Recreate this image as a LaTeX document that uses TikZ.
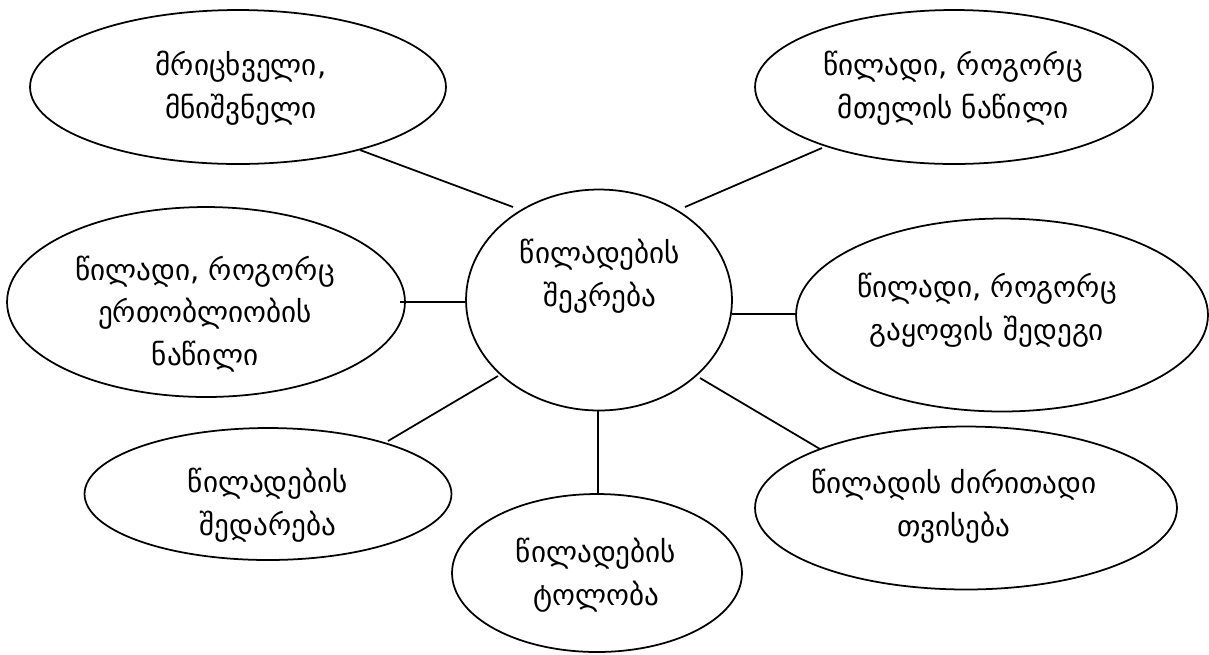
\documentclass[tikz,border=0pt]{standalone}
\usepackage{fontspec}
\setmainfont{DejaVu Sans}
\usetikzlibrary{shapes.geometric}
\begin{document}
\begin{tikzpicture}[x=0.02cm,y=-0.02cm,
  bubble/.style={draw,ellipse,line width=1pt,inner sep=0pt},
  txt/.style={align=center,font=\fontsize{16.6}{24.3}\selectfont,inner sep=0pt},
  link/.style={line width=1pt}]
\useasboundingbox (0,0) rectangle (1209,654);
\node[bubble,minimum width=8.32cm,minimum height=3.08cm] (e1) at (238,87) {};
\node[bubble,minimum width=7.96cm,minimum height=3.08cm] (e2) at (954,87) {};
\node[bubble,minimum width=7.96cm,minimum height=3.8cm] (e3) at (206,302) {};
\node[bubble,minimum width=5.32cm,minimum height=4.42cm] (c) at (599,300) {};
\node[bubble,minimum width=8.24cm,minimum height=3.86cm] (e5) at (1002,315) {};
\node[bubble,minimum width=7.34cm,minimum height=2.64cm] (e6) at (268,494) {};
\node[bubble,minimum width=5.8cm,minimum height=3.16cm] (e7) at (597,573) {};
\node[bubble,minimum width=8.44cm,minimum height=3.26cm] (e8) at (966,508) {};

\node[txt] (t1) at (241,88) {მრიცხველი,\\მნიშვნელი};
\node[txt] (t2) at (953,88) {წილადი, როგორც\\მთელის ნაწილი};
\node[txt] (t3) at (205,314) {წილადი, როგორც\\ერთობლიობის\\ნაწილი};
\node[txt] (tc) at (600,276) {წილადების\\შეკრება};
\node[txt] (t5) at (987,310) {წილადი, როგორც\\გაყოფის შედეგი};
\node[txt] (t6) at (268,505) {წილადების\\შედარება};
\node[txt] (t7) at (596,575) {წილადების\\ტოლობა};
\node[txt] (t8) at (954,506) {წილადის ძირითადი\\თვისება};

\coordinate (a1) at (360,150); \coordinate (b1) at (513,207);
\coordinate (a2) at (685,207); \coordinate (b2) at (822,148);
\coordinate (a3) at (400,302); \coordinate (b3) at (466,302);
\coordinate (a4) at (732,314); \coordinate (b4) at (796,314);
\coordinate (a5) at (498,376); \coordinate (b5) at (388,441);
\coordinate (a6) at (598,410); \coordinate (b6) at (598,494);
\coordinate (a7) at (700,378); \coordinate (b7) at (820,449);
\draw[link] (a1) -- (b1);
\draw[link] (a2) -- (b2);
\draw[link] (a3) -- (b3);
\draw[link] (a4) -- (b4);
\draw[link] (a5) -- (b5);
\draw[link] (a6) -- (b6);
\draw[link] (a7) -- (b7);
\end{tikzpicture}
\end{document}
